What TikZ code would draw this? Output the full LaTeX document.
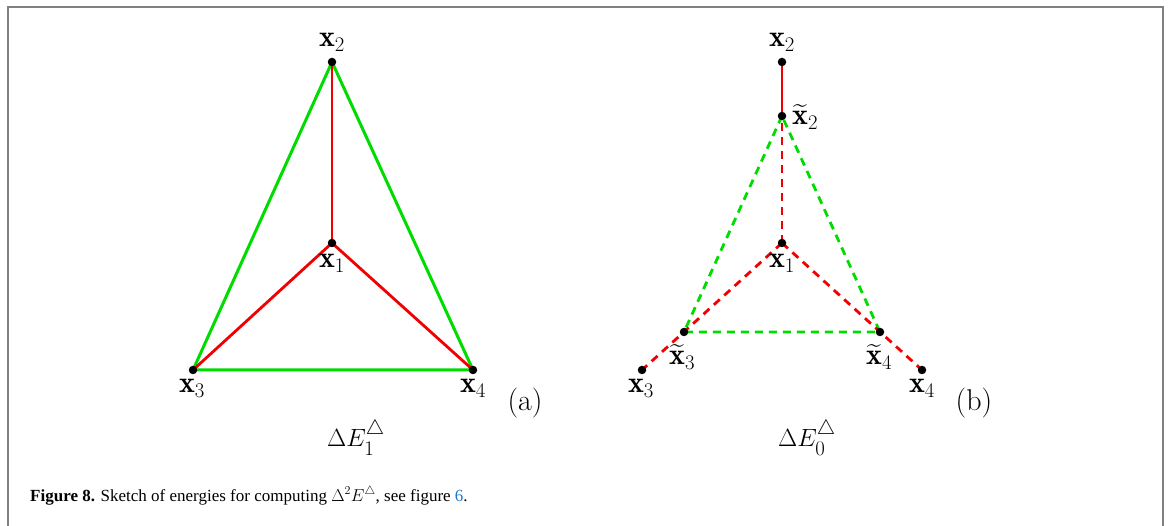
\documentclass[tikz,border=0pt]{standalone}
\usepackage{amsmath}
\usepackage{fontspec}
\newfontfamily\capfont{Liberation Serif}
\definecolor{fgreen}{RGB}{0,220,0}
\definecolor{fred}{RGB}{240,0,0}
\definecolor{framegray}{RGB}{128,128,128}
\definecolor{linkblue}{RGB}{30,120,200}
\tikzset{
  dot/.style={circle,fill=black,inner sep=0pt,minimum size=8.5pt},
  lbl/.style={inner sep=0pt,anchor=base,font=\fontsize{30}{34}\selectfont},
  lblw/.style={lbl,anchor=base west},
  gline/.style={draw=fgreen,line width=3pt},
  rline/.style={draw=fred,line width=2.8pt},
  gdash/.style={draw=fgreen,line width=2.8pt,dash pattern=on 8pt off 6pt},
  rdash/.style={draw=fred,line width=2.8pt,dash pattern=on 8pt off 6pt},
}
\begin{document}
\begin{tikzpicture}[x=1pt,y=-1pt]
\useasboundingbox (0,0) rectangle (1168,526);
\draw[framegray,line width=2pt] (8,540) -- (8,7) -- (1163,7) -- (1163,540);
% panel (a)
\coordinate (a2) at (332,62);
\coordinate (a1) at (332,243);
\coordinate (a3) at (193,370);
\coordinate (a4) at (473,370);
\draw[gline] (a2) -- (a3) -- (a4) -- cycle;
\draw[rline] (a1) -- (a2);
\draw[rline] (a1) -- (a3);
\draw[rline] (a1) -- (a4);
\foreach \p in {a1,a2,a3,a4} \node[dot] at (\p) {};
\node[lbl] (la2) at (332,47) {$\mathbf{x}_2$};
\node[lbl] (la1) at (332,268) {$\mathbf{x}_1$};
\node[lbl] (la3) at (192,393) {$\mathbf{x}_3$};
\node[lbl] (la4) at (473,393) {$\mathbf{x}_4$};
\node[lbl] (tagA) at (525,411) {(a)};
\node[lbl] (EA) at (356,447) {$\Delta E_1^{\triangle}$};
% panel (b)
\coordinate (b2) at (782,62);
\coordinate (bt2) at (782,116);
\coordinate (b1) at (782,243);
\coordinate (bt3) at (684,332);
\coordinate (bt4) at (880,332);
\coordinate (b3) at (642,370);
\coordinate (b4) at (922,370);
\draw[gdash] (bt2) -- (bt3) -- (bt4) -- cycle;
\draw[rline] (b2) -- (bt2);
\draw[rdash] (b1) -- (bt2);
\draw[rdash] (b1) -- (b3);
\draw[rdash] (b1) -- (b4);
\foreach \p in {b2,bt2,b1,bt3,bt4,b3,b4} \node[dot] at (\p) {};
\node[lbl] (lb2) at (782,47) {$\mathbf{x}_2$};
\node[lblw] (lbt2) at (792,125) {$\widetilde{\mathbf{x}}_2$};
\node[lbl] (lb1) at (782,268) {$\mathbf{x}_1$};
\node[lblw] (lbt3) at (669,365) {$\widetilde{\mathbf{x}}_3$};
\node[lblw] (lbt4) at (866,365) {$\widetilde{\mathbf{x}}_4$};
\node[lbl] (lb3) at (641,393) {$\mathbf{x}_3$};
\node[lbl] (lb4) at (922,393) {$\mathbf{x}_4$};
\node[lbl] (tagB) at (974,411) {(b)};
\node[lbl] (EB) at (807,447) {$\Delta E_0^{\triangle}$};
% caption
\node[anchor=base west,inner sep=0pt,font=\fontsize{17}{20}\selectfont\capfont] (cap) at (30,501)
  {\textbf{Figure 8.} Sketch of energies for computing $\Delta^{2}E^{\triangle}$, see figure \textcolor{linkblue}{6}.};
\end{tikzpicture}
\end{document}
